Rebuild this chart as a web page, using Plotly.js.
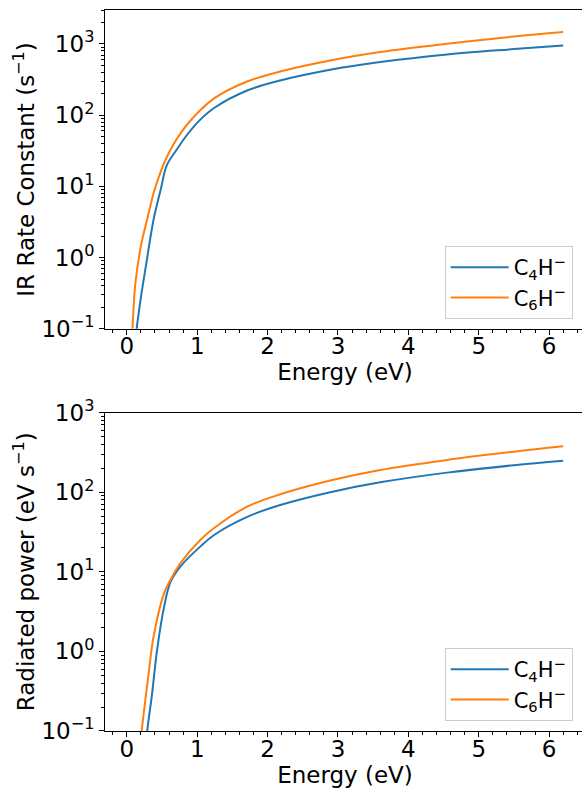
<!DOCTYPE html>
<html>
<head>
<meta charset="utf-8">
<script src="https://cdn.plot.ly/plotly-3.0.1.min.js"></script>
<style>
html, body { margin: 0; padding: 0; overflow: hidden; background: #fff; }
#chart { width: 586px; height: 820px; }
</style>
</head>
<body>
<div id="chart"></div>
<script>
// ---- Data ----
const seriesNames = ["C<sub>4</sub>H<sup>−</sup>", "C<sub>6</sub>H<sup>−</sup>"];

// Top panel: IR rate constant (s^-1)
const rateEnergyC4 = [0.11, 0.14, 0.195, 0.27, 0.38, 0.48, 0.57, 0.72, 0.83, 1.02, 1.24, 1.71, 2.18, 2.89, 3.60, 4.55, 5.50, 6.20];
const rateC4       = [0.05, 0.1, 0.255, 0.75, 3.4, 8.9, 20, 34, 49, 82, 126, 222, 307, 434, 557, 713, 848, 955];
const rateEnergyC6 = [0.06, 0.08, 0.12, 0.20, 0.30, 0.38, 0.47, 0.55, 0.65, 0.77, 0.93, 1.24, 1.71, 2.18, 2.89, 3.60, 4.55, 5.50, 6.20];
const rateC6       = [0.05, 0.1, 0.42, 1.45, 3.8, 8.0, 15, 23.7, 37, 57, 90, 172, 297, 411, 586, 769, 1007, 1274, 1475];

// Bottom panel: radiated power (eV s^-1)
const powerEnergyC4 = [0.26, 0.29, 0.36, 0.43, 0.53, 0.62, 0.76, 1.05, 1.24, 1.71, 2.18, 2.89, 3.60, 4.55, 5.50, 6.20];
const powerC4       = [0.05, 0.1, 0.30, 1.04, 3.65, 7.4, 11.6, 21, 29, 49, 69, 100, 133, 176, 218, 248];
const powerEnergyC6 = [0.17, 0.21, 0.31, 0.38, 0.53, 0.62, 0.76, 1.05, 1.24, 1.71, 2.18, 2.89, 3.60, 4.55, 5.50, 6.20];
const powerC6       = [0.05, 0.1, 0.53, 1.53, 5.4, 7.9, 12.8, 25.5, 35.5, 65.8, 94, 140, 190, 254, 323, 378];

// Tick labels
const xTickVals = [0, 1, 2, 3, 4, 5, 6];
const xTickText = ["0", "1", "2", "3", "4", "5", "6"];
const yTickVals = [0.1, 1, 10, 100, 1000];
const yTickText = ["10<sup>−1</sup>", "10<sup>0</sup>", "10<sup>1</sup>", "10<sup>2</sup>", "10<sup>3</sup>"];

// ---- Styling ----
const W = 586, H = 820;   // page window is 582x788; the extra is clipped
const blue = "#1f77b4", orange = "#ff7f0e";
const FONT = "DejaVu Sans, sans-serif";
const fs = 23;

const yMinor = [];
for (let e = -1; e <= 3; e++) for (let m = 2; m <= 9; m++) yMinor.push(m * Math.pow(10, e));

// plot-area geometry (pixels in the page)
const L = 104.5, R = 584.6, T = 10.3, B = 731;
const plotH = B - T;
const topDomain = [1 - (329 - T) / plotH, 1];
const botDomain = [0, 1 - (412.7 - T) / plotH];

function xAxis(anchor) {
  return {
    domain: [0, 1], anchor: anchor, range: [-0.31, 6.51],
    tickmode: "array", tickvals: xTickVals, ticktext: xTickText,
    ticks: "outside", ticklen: 5, tickwidth: 1, tickcolor: "#000",
    ticklabelstandoff: -8,
    minor: { ticks: "outside", dtick: 0.2, tick0: 0, ticklen: 3, tickwidth: 1, tickcolor: "#000" },
    showline: true, linecolor: "#000", linewidth: 1, mirror: true,
    showgrid: false, zeroline: false, automargin: false,
    tickfont: { family: FONT, size: fs, color: "#000" },
    title: { text: "Energy (eV)", font: { family: FONT, size: fs, color: "#000" }, standoff: 0 }
  };
}
function yAxis(anchor, domain, range, title) {
  return {
    domain: domain, anchor: anchor, type: "log", range: range,
    tickmode: "array", tickvals: yTickVals, ticktext: yTickText,
    ticks: "outside", ticklen: 5, tickwidth: 1, tickcolor: "#000",
    minor: { ticks: "outside", tickmode: "array", tickvals: yMinor, ticklen: 3, tickwidth: 1, tickcolor: "#000" },
    showline: true, linecolor: "#000", linewidth: 1, mirror: true,
    showgrid: false, zeroline: false, automargin: false,
    tickfont: { family: FONT, size: fs, color: "#000" },
    title: { text: title, font: { family: FONT, size: fs, color: "#000" }, standoff: 0 }
  };
}

const lineOpts = (c) => ({ color: c, width: 2, shape: "spline", smoothing: 1.0 });

const traces = [
  { x: rateEnergyC4, y: rateC4, name: seriesNames[0], xaxis: "x", yaxis: "y", legend: "legend",
    mode: "lines", line: lineOpts(blue) },
  { x: rateEnergyC6, y: rateC6, name: seriesNames[1], xaxis: "x", yaxis: "y", legend: "legend",
    mode: "lines", line: lineOpts(orange) },
  { x: powerEnergyC4, y: powerC4, name: seriesNames[0], xaxis: "x2", yaxis: "y2", legend: "legend2",
    mode: "lines", line: lineOpts(blue) },
  { x: powerEnergyC6, y: powerC6, name: seriesNames[1], xaxis: "x2", yaxis: "y2", legend: "legend2",
    mode: "lines", line: lineOpts(orange) }
];

// legend positions in paper fraction (paper = plot area)
const legendStyle = (yBottomPx) => ({
  x: (572.3 - L) / (R - L), xanchor: "right", y: (B - yBottomPx) / plotH, yanchor: "bottom",
  bgcolor: "rgba(255,255,255,0.8)", bordercolor: "#cccccc", borderwidth: 1,
  font: { family: FONT, size: 21, color: "#000" },
  itemwidth: 58, tracegroupgap: 0
});

const layout = {
  width: W, height: H,
  margin: { l: L, r: W - R, t: T, b: H - B, pad: 0, autoexpand: false },
  paper_bgcolor: "#fff", plot_bgcolor: "#fff",
  showlegend: true,
  xaxis: xAxis("y"),
  yaxis: yAxis("x", topDomain, [-1, Math.log10(3000)], "IR Rate Constant (s<sup>−1</sup>)"),
  xaxis2: xAxis("y2"),
  yaxis2: yAxis("x2", botDomain, [-1, 3], "Radiated power (eV s<sup>−1</sup>)"),
  legend: legendStyle(319.3),
  legend2: legendStyle(721)
};

Plotly.newPlot("chart", traces, layout, { displayModeBar: false, staticPlot: true });
</script>
</body>
</html>
